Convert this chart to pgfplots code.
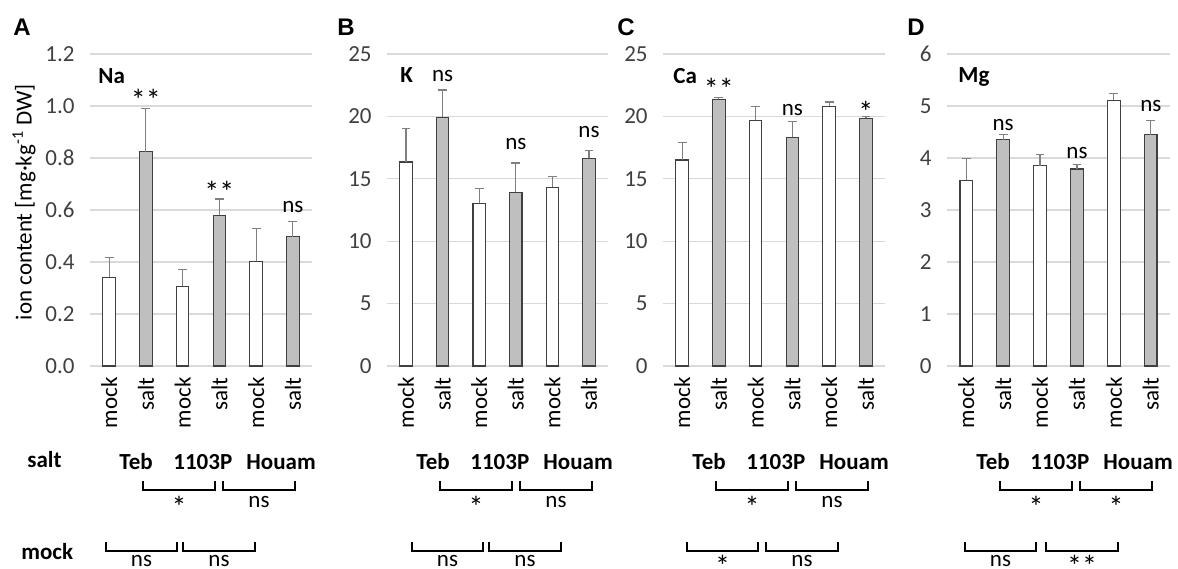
\documentclass[border=0pt]{standalone}
\usepackage{fontspec}
\setmainfont{Carlito}
\newfontfamily\arialfont{Liberation Sans}
\usepackage{pgfplots}
\pgfplotsset{compat=1.18}
\definecolor{saltgray}{HTML}{BFBFBF}
\definecolor{gridgray}{HTML}{D9D9D9}
\definecolor{errgray}{HTML}{808080}
\definecolor{edgegray}{HTML}{404040}

\newcommand{\fs}{\fontsize{11.5}{13.8}\selectfont}
\newcommand{\lowstar}[1]{{\fontsize{15}{15}\selectfont\raisebox{-5pt}{#1}}}

\tikzset{sig/.style={anchor=base, font=\fs, inner sep=0pt}}

\pgfplotsset{
  panel/.style={
    scale only axis, anchor=south west, height=156pt,
    xmin=-0.52, xmax=5.52, ymin=0,
    xtick={0,...,5}, xticklabels={mock,salt,mock,salt,mock,salt},
    xticklabel style={rotate=90, anchor=east, inner xsep=5.5pt, font=\fs, text=black},
    yticklabel style={inner xsep=7.5pt, font=\fs, text=black!75},
    major tick length=0pt,
    axis line style={draw=none},
    ymajorgrids, grid style={gridgray, line width=0.6pt},
    clip=false,
    /pgf/number format/assume math mode=true,
  },
  barbase/.style={ybar, bar width=0.34, draw=edgegray, line width=0.6pt,
    error bars/y dir=plus, error bars/y explicit,
    error bars/error bar style={errgray, line width=0.6pt},
    error bars/error mark options={rotate=90, errgray, mark size=2.2pt, line width=0.6pt}},
  mockbar/.style={fill=white, barbase},
  saltbar/.style={fill=saltgray, barbase},
}

% bottom rows: #1 axis left (px), #2 #3 starts of the mock brackets,
% #4 #5 salt comparisons, #6 #7 mock comparisons
\newcommand{\bottomrow}[7]{%
  \node[anchor=base west, inner sep=0pt, font=\fs\bfseries] at ({#1+29},469) {Teb};
  \node[anchor=base west, inner sep=0pt, font=\fs\bfseries] at ({#1+83},469) {1103P};
  \node[anchor=base west, inner sep=0pt, font=\fs\bfseries] at ({#1+156},469) {Houam};
  \draw[line width=0.6pt] ({#1+53},481) -- ({#1+53},490) -- ({#1+125},490) -- ({#1+125},481);
  \draw[line width=0.6pt] ({#1+133},481) -- ({#1+133},490) -- ({#1+205},490) -- ({#1+205},481);
  \node[sig] at ({#1+89},507) {#4};
  \node[sig] at ({#1+169},507) {#5};
  \draw[line width=0.6pt] ({#1+#2},542) -- ({#1+#2},551) -- ({#1+#2+71},551) -- ({#1+#2+71},542);
  \draw[line width=0.6pt] ({#1+#3},542) -- ({#1+#3},551) -- ({#1+#3+72},551) -- ({#1+#3+72},542);
  \node[sig] at ({#1+#2+35.5},566) {#6};
  \node[sig] at ({#1+#3+36},566) {#7};
}

\begin{document}
\begin{tikzpicture}[font=\fs]

% A: Na
\begin{axis}[panel, at={(45pt,-183pt)}, width=111pt, ymax=1.2,
  ytick={0,0.2,0.4,0.6,0.8,1.0,1.2},
  yticklabel style={/pgf/number format/fixed, /pgf/number format/fixed zerofill, /pgf/number format/precision=1}]
\addplot[mockbar] coordinates {(0,0.341) +- (0,0.076) (2,0.306) +- (0,0.066) (4,0.402) +- (0,0.127)};
\addplot[saltbar] coordinates {(1,0.825) +- (0,0.166) (3,0.579) +- (0,0.063) (5,0.498) +- (0,0.059)};
\node[sig] at (axis cs:1,1.023) {\lowstar{**}};
\node[sig] at (axis cs:3,0.669) {\lowstar{**}};
\node[sig] at (axis cs:5,0.592) {ns};
\end{axis}

% B: K
\begin{axis}[panel, at={(193.5pt,-183pt)}, width=110.5pt, ymax=25, ytick={0,5,10,15,20,25}]
\addplot[mockbar] coordinates {(0,16.34) +- (0,2.72) (2,13.05) +- (0,1.20) (4,14.33) +- (0,0.88)};
\addplot[saltbar] coordinates {(1,19.92) +- (0,2.19) (3,13.93) +- (0,2.33) (5,16.63) +- (0,0.64)};
\node[sig] at (axis cs:1,22.78) {ns};
\node[sig] at (axis cs:3,17.31) {ns};
\node[sig] at (axis cs:5,18.33) {ns};
\end{axis}

% C: Ca
\begin{axis}[panel, at={(331.5pt,-183pt)}, width=111pt, ymax=25, ytick={0,5,10,15,20,25}]
\addplot[mockbar] coordinates {(0,16.50) +- (0,1.41) (2,19.68) +- (0,1.12) (4,20.80) +- (0,0.35)};
\addplot[saltbar] coordinates {(1,21.36) +- (0,0.14) (3,18.32) +- (0,1.28) (5,19.84) +- (0,0.16)};
\node[sig] at (axis cs:1,22.12) {\lowstar{**}};
\node[sig] at (axis cs:3,20.11) {ns};
\node[sig] at (axis cs:5,20.30) {\lowstar{*}};
\end{axis}

% D: Mg
\begin{axis}[panel, at={(473.5pt,-183pt)}, width=111.5pt, ymax=6, ytick={0,1,2,3,4,5,6}]
\addplot[mockbar] coordinates {(0,3.57) +- (0,0.42) (2,3.85) +- (0,0.22) (4,5.11) +- (0,0.13)};
\addplot[saltbar] coordinates {(1,4.35) +- (0,0.10) (3,3.79) +- (0,0.09) (5,4.45) +- (0,0.27)};
\node[sig] at (axis cs:1,4.525) {ns};
\node[sig] at (axis cs:3,3.994) {ns};
\node[sig] at (axis cs:5,4.904) {ns};
\end{axis}

\begin{scope}[x=0.5pt, y=-0.5pt]
\path[use as bounding box] (0,0) rectangle (1178,568);
% panel letters
\foreach \l/\xx in {A/13, B/337, C/617, D/907}
  \node[anchor=base west, inner sep=0pt, font=\fontsize{12}{14}\selectfont\arialfont\bfseries] at (\xx,35) {\l};
% element names
\node[anchor=base west, inner sep=0pt, font=\fs\bfseries] at (98,83) {Na};
\node[anchor=base west, inner sep=0pt, font=\fs\bfseries] at (400,82) {K};
\node[anchor=base west, inner sep=0pt, font=\fs\bfseries] at (673,83) {Ca};
\node[anchor=base west, inner sep=0pt, font=\fs\bfseries] at (958,82) {Mg};
% y label
\node[rotate=90, font=\fs] at (24,202) {ion content [mg·kg\textsuperscript{-1} DW]};
% row labels
\node[anchor=base west, inner sep=0pt, font=\fs\bfseries] at (27,467) {salt};
\node[anchor=base west, inner sep=0pt, font=\fs\bfseries] at (21,559) {mock};
\bottomrow{90}{16}{93}{\lowstar{*}}{ns}{ns}{ns}
\bottomrow{387}{25}{102}{\lowstar{*}}{ns}{ns}{ns}
\bottomrow{663}{24}{103}{\lowstar{*}}{ns}{\lowstar{*}}{ns}
\bottomrow{947}{18}{99}{\lowstar{*}}{\lowstar{*}}{ns}{\lowstar{**}}
\end{scope}
\end{tikzpicture}
\end{document}
